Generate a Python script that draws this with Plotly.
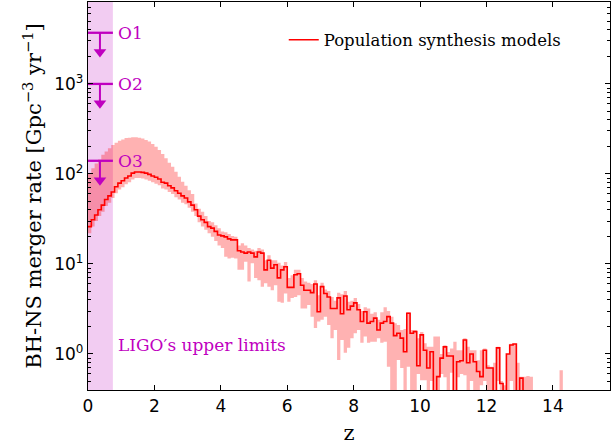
import numpy as np
import plotly.graph_objects as go

# ---------------- data ----------------
BIN_WIDTH = 0.1  # redshift bin width of the histogram

# median merger rate per bin (Gpc^-3 yr^-1); ~0 bins given as 0.01
rate_median = [
    26, 31, 35, 40, 45, 52, 57, 63, 72, 79,
    84, 90, 95, 102, 105, 105, 104, 102, 99, 95,
    92, 88, 81, 79, 74, 70, 65, 61, 57, 54,
    49, 45, 40, 34, 31, 29, 26, 25, 23, 21,
    20.5, 20, 19, 18.5, 18.5, 14, 13.6, 13.2, 13.6, 13.2,
    12, 13.6, 13.2, 8.6, 11, 9.0, 9.8, 7.0, 8.6, 9.3,
    5.5, 5.5, 7.6, 7.8, 5.8, 5.1, 5.1, 4.8, 6.0, 2.95,
    5.6, 4.7, 4.3, 3.2, 3.2, 4.2, 2.8, 4.4, 3.1, 3.4,
    3.7, 3.1, 2.3, 2.95, 2.2, 2.3, 2.5, 1.85, 2.2, 2.3,
    2.6, 2.2, 1.6, 1.7, 1.5, 1.06, 2.83, 1.7, 1.77, 0.74,
    1.63, 1.1, 0.70, 1.06, 0.01, 0.56, 0.9, 1.2, 0.95, 0.95,
    0.01, 0.82, 0.84, 1.43, 0.80, 1.0, 0.82, 0.64, 0.56, 1.1,
    0.70, 0.70, 0.01, 1.17, 0.47, 0.01, 1.0, 1.26, 1.29, 0.01,
    0.54, 0.01, 0.01, 0.01, 0.01, 0.01, 0.01, 0.01, 0.01, 0.01,
    0.01, 0.01, 0.01,
]

rate_upper = [
    102, 116, 131, 145, 163, 177, 193, 210, 222, 234,
    242, 250, 253, 255, 255, 253, 248, 239, 229, 215,
    200, 184, 167, 149, 133, 120, 106, 93, 82, 74,
    66, 60, 47, 41, 38, 34, 30, 29, 27, 25,
    23, 22.5, 21.5, 20.5, 20, 16, 17, 16, 15, 14.5,
    14, 15, 14.5, 11, 12.5, 11, 11, 10.3, 9.6, 10.5,
    7, 7.5, 8.6, 8.6, 7, 6.4, 6.2, 6.0, 6.6, 4.5,
    6.2, 5.2, 5.0, 4.3, 3.9, 4.8, 4.6, 5.0, 3.8, 3.9,
    4.2, 3.6, 3.0, 3.3, 3.2, 2.8, 2.9, 2.4, 2.9, 3.3,
    3.0, 2.6, 2.2, 2.1, 1.85, 1.9, 2.9, 1.85, 1.85, 1.5,
    1.75, 1.32, 1.2, 1.2, 1.56, 1.56, 1.0, 1.25, 1.05, 1.15,
    1.37, 1.1, 1.1, 1.5, 1.2, 1.1, 1.1, 0.85, 1.1, 1.15,
    0.75, 0.72, 0.8, 1.2, 0.5, 0.45, 1.0, 1.3, 1.3, 0.8,
    0.56, 0.56, 0.57, 0.56, 0.01, 0.01, 0.01, 0.01, 0.01, 0.01,
    0.01, 0.01, 0.66,
]

rate_lower = [
    22, 26, 30, 34, 38, 44, 48, 54, 61, 67,
    71, 77, 81, 87, 90, 90, 89, 87, 84, 81,
    78, 75, 69, 67, 63, 60, 55, 52, 48, 46,
    42, 38, 34, 29, 26, 24, 22, 20, 18, 16,
    15, 12, 11.5, 11.7, 11.5, 8.6, 8.6, 10.6, 6.4, 10.2,
    7.0, 6.6, 5.6, 6.1, 5.6, 5.1, 5.8, 3.8, 3.7, 4.7,
    3.8, 4.2, 4.3, 4.5, 3.2, 3.2, 3.5, 2.6, 1.95, 2.3,
    2.4, 2.6, 2.1, 1.5, 1.85, 0.86, 1.43, 1.03, 1.17, 1.5,
    1.7, 1.85, 1.33, 1.56, 1.33, 1.37, 1.37, 1.5, 1.33, 1.37,
    0.72, 0.01, 0.01, 0.86, 0.7, 0.01, 0.72, 0.01, 0.01, 0.6,
    0.51, 0.51, 0.01, 0.5, 0.01, 0.01, 0.6, 0.55, 0.01, 0.62,
    0.01, 0.55, 0.6, 0.58, 0.01, 0.5, 0.01, 0.01, 0.45, 0.5,
    0.01, 0.01, 0.01, 0.5, 0.01, 0.01, 0.01, 0.5, 0.01, 0.01,
    0.01, 0.01, 0.01, 0.01, 0.01, 0.01, 0.01, 0.01, 0.01, 0.01,
    0.01, 0.01, 0.01,
]

ligo_runs = ["O1", "O2", "O3"]
ligo_limits = [3700, 1000, 140]      # upper limits on the rate
LIGO_Z_MAX = 0.75                     # redshift extent of LIGO limits
LIGO_ARROW_Z = 0.36
ARROW_HEAD_DEX = 0.215                # position of arrow head centre below limit

x_ticks = [0, 2, 4, 6, 8, 10, 12, 14]
y_tickvals = [1, 10, 100, 1000]
y_ticktext = ["10<sup>0</sup>", "10<sup>1</sup>", "10<sup>2</sup>", "10<sup>3</sup>"]

# ---------------- styling ----------------
RED = "#ff0000"
MAG = "#bf00bf"
SERIF = "DejaVu Serif"
SANS = "DejaVu Sans"

n = len(rate_median)
edges = np.round(np.arange(n + 1) * BIN_WIDTH, 3)


def step(v):
    return list(v) + [v[-1]]


fig = go.Figure()

fig.add_vrect(x0=0, x1=LIGO_Z_MAX, fillcolor="rgba(191,0,191,0.2)",
              line_width=0, layer="below")

fig.add_trace(go.Scatter(x=edges, y=step(rate_lower), mode="lines",
                         line=dict(width=0, shape="hv"), showlegend=False,
                         hoverinfo="skip"))
fig.add_trace(go.Scatter(x=edges, y=step(rate_upper), mode="lines",
                         line=dict(width=0, shape="hv"), fill="tonexty",
                         fillcolor="rgba(255,0,0,0.3)", showlegend=False,
                         hoverinfo="skip"))
fig.add_trace(go.Scatter(x=edges, y=step(rate_median), mode="lines",
                         line=dict(color=RED, width=1.6, shape="hv"),
                         name="Population synthesis models"))

annotations = []
for run, lim in zip(ligo_runs, ligo_limits):
    fig.add_trace(go.Scatter(x=[0, LIGO_Z_MAX], y=[lim, lim], mode="lines",
                             line=dict(color=MAG, width=2.3),
                             showlegend=False, hoverinfo="skip"))
    head = lim / 10 ** ARROW_HEAD_DEX
    fig.add_trace(go.Scatter(x=[LIGO_ARROW_Z, LIGO_ARROW_Z], y=[lim, head],
                             mode="lines", line=dict(color=MAG, width=2),
                             showlegend=False, hoverinfo="skip"))
    fig.add_trace(go.Scatter(x=[LIGO_ARROW_Z], y=[head], mode="markers",
                             marker=dict(symbol="triangle-down", size=11,
                                         color=MAG, line=dict(width=0)),
                             showlegend=False, hoverinfo="skip"))
    annotations.append(dict(
        x=LIGO_Z_MAX + 0.08, y=np.log10(lim), xref="x", yref="y",
        text=run, showarrow=False, xanchor="left", yanchor="middle",
        font=dict(family=SERIF, size=17, color=MAG)))

annotations.append(dict(
    x=LIGO_Z_MAX + 0.08, y=np.log10(1.26), xref="x", yref="y",
    text="LIGO\u2032s upper limits", showarrow=False, xanchor="left",
    yanchor="middle", font=dict(family=SERIF, size=17, color=MAG)))

fig.update_layout(
    width=611, height=445,
    margin=dict(l=88, r=1, t=2, b=55),
    paper_bgcolor="white", plot_bgcolor="white",
    annotations=annotations,
    showlegend=True,
    legend=dict(x=0.375, y=0.902, xanchor="left", yanchor="middle",
                bgcolor="rgba(0,0,0,0)", borderwidth=0,
                font=dict(family=SERIF, size=16.5, color="black")),
)

fig.update_xaxes(
    range=[0, 15.72], tickvals=x_ticks, ticks="inside", ticklen=5,
    tickwidth=1, tickcolor="black", mirror="ticks", showline=True,
    linecolor="black", linewidth=1.3, showgrid=False, zeroline=False,
    tickfont=dict(family=SANS, size=17, color="black"),
    title=dict(text="z", font=dict(family=SERIF, size=21, color="black"),
               standoff=10),
)
fig.update_yaxes(
    type="log", range=[-0.4, 3.91], tickvals=y_tickvals, ticktext=y_ticktext,
    ticks="inside", ticklen=5, tickwidth=1, tickcolor="black", mirror="ticks",
    showline=True, linecolor="black", linewidth=1.3, showgrid=False,
    zeroline=False,
    minor=dict(ticks="inside", ticklen=3, tickcolor="black", dtick="D1",
               showgrid=False),
    tickfont=dict(family=SANS, size=17, color="black"),
    title=dict(text="BH-NS merger rate [Gpc<sup>\u22123</sup> yr<sup>\u22121</sup>]",
               font=dict(family=SERIF, size=21, color="black"), standoff=6),
)

fig.write_html("out.html", config={"displayModeBar": False},
               post_script="document.body.style.margin='0';")
